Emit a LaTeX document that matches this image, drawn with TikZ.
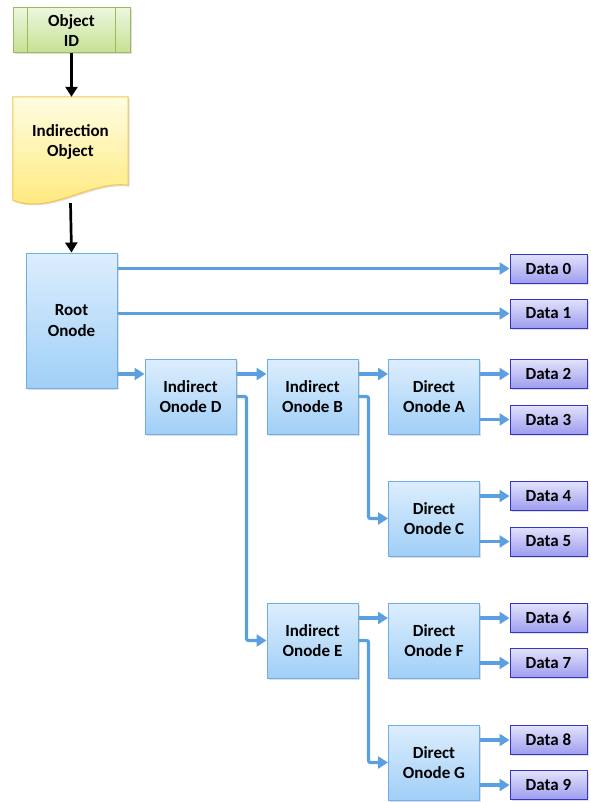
\documentclass[tikz,border=0pt]{standalone}
\usepackage{fontspec}
\setmainfont{Carlito}
\usepackage{tikz}
\usetikzlibrary{positioning, arrows.meta, shadows}

\definecolor{idedge}{HTML}{9BBB59}
\definecolor{idtop}{HTML}{EDF6DF}
\definecolor{idbot}{HTML}{C4E192}
\definecolor{docedge}{HTML}{F4C54A}
\definecolor{doctop}{HTML}{FFFDE2}
\definecolor{docbot}{HTML}{FFE875}
\definecolor{onedge}{HTML}{6EADE6}
\definecolor{ontop}{HTML}{DDEEFD}
\definecolor{onbot}{HTML}{A0CFF7}
\definecolor{dataedge}{HTML}{3434C8}
\definecolor{datatop}{HTML}{E2E2FC}
\definecolor{databot}{HTML}{9E9DEF}
\definecolor{flowblue}{HTML}{5A9FDF}

\begin{document}
\begin{tikzpicture}[x=1pt, y=-1pt,
    every node/.style={font=\fontsize{17}{20.5}\selectfont\bfseries, align=center},
    softshadow/.style={drop shadow={opacity=0.25, shadow xshift=1.5pt, shadow yshift=-1.5pt}},
    onode/.style={draw=onedge, line width=1pt, top color=ontop, bottom color=onbot,
        minimum width=91pt, minimum height=75pt, inner sep=0pt, softshadow},
    data/.style={draw=dataedge, line width=1pt, top color=datatop, bottom color=databot,
        minimum width=77pt, minimum height=29pt, inner sep=0pt, softshadow},
    flow/.style={draw=flowblue, line width=3.2pt, rounded corners=2pt,
        -{Triangle[length=10pt, width=12pt]}},
    link/.style={draw=black, line width=2.7pt, -{Triangle[length=10pt, width=12pt]}}]
    \useasboundingbox (0,0) rectangle (590,802);

    % object id (predefined process)
    \node[draw=idedge, line width=1pt, top color=idtop, bottom color=idbot,
        minimum width=117pt, minimum height=45pt, inner sep=0pt, softshadow] (oid) at (71.5,30.5) {Object\\ID};
    \draw[idedge, line width=1pt] ([xshift=15pt]oid.north west) -- ([xshift=15pt]oid.south west)
        ([xshift=-15pt]oid.north east) -- ([xshift=-15pt]oid.south east);

    % indirection object (document)
    \node[minimum width=115pt, minimum height=90pt, inner sep=0pt] (ind) at (70.5,142) {};
    \draw[docedge, line width=1pt, top color=doctop, bottom color=docbot, softshadow]
        (ind.north west) -- (ind.north east) -- ([yshift=2pt]ind.south east)
        .. controls +(-38,-5) and +(37,15) .. ([yshift=-13pt]ind.south west) -- cycle;
    \node at (ind.center) {Indirection\\Object};

    % onodes
    \node[onode, minimum height=135pt] (root) at (71.5,320.5) {Root\\Onode};
    \node[onode] (D) at (190.5,396.5) {Indirect\\Onode D};
    \node[onode] (B) at (312.5,396.5) {Indirect\\Onode B};
    \node[onode] (A) at (434,396.5) {Direct\\Onode A};
    \node[onode] (C) at (434,518.5) {Direct\\Onode C};
    \node[onode] (E) at (312.5,640.5) {Indirect\\Onode E};
    \node[onode] (F) at (434,640.5) {Direct\\Onode F};
    \node[onode] (G) at (434,762.5) {Direct\\Onode G};

    % data blocks
    \foreach \i/\y in {0/268.5, 1/313.5, 2/374, 3/419.5, 4/496, 5/541.5, 6/618, 7/663, 8/740, 9/785}
        \node[data] (d\i) at (548.5,\y) {Data \i};

    % links
    \draw[link] (oid.south) -- (root.north |- ind.north);
    \draw[link] ([yshift=-16pt]ind.south) -- (root.north);

    \draw[flow] (root.east |- d0) -- (d0.west);
    \draw[flow] (root.east |- d1) -- (d1.west);
    \draw[flow] (root.east |- d2) -- (D.west |- d2);
    \draw[flow] (D.east |- d2) -- (B.west |- d2);
    \draw[flow] (D.east) -- ++(10,0) |- (E.west);
    \draw[flow] (B.east |- d2) -- (A.west |- d2);
    \draw[flow] (B.east) -- ++(10,0) |- (C.west);
    \draw[flow] (E.east |- d6) -- (F.west |- d6);
    \draw[flow] (E.east) -- ++(10,0) |- (G.west);
    \foreach \n/\a/\b in {A/2/3, C/4/5, F/6/7, G/8/9} {
        \draw[flow] (\n.east |- d\a) -- (d\a.west);
        \draw[flow] (\n.east |- d\b) -- (d\b.west);
    }
\end{tikzpicture}
\end{document}
